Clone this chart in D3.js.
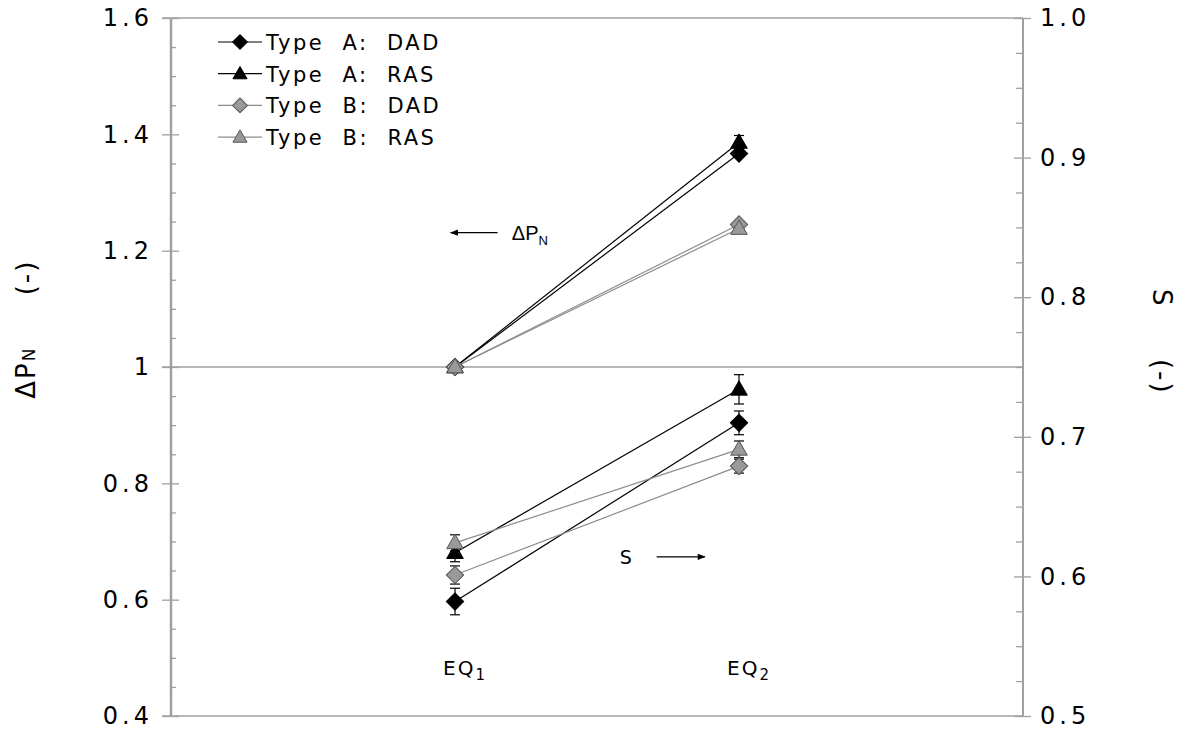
<!DOCTYPE html>
<meta charset="utf-8">
<script src="https://d3js.org/d3.v7.min.js"></script>
<style>
  body { margin: 0; background: #fff; }
  text { font-family: "DejaVu Sans", sans-serif; fill: #000; }
</style>
<div id="my_dataviz"></div>
<script>

// categories on the x axis
var categories = ["EQ1", "EQ2"];
var catSub = ["1", "2"];

// series
var seriesNames = ["Type A: DAD", "Type A: RAS", "Type B: DAD", "Type B: RAS"];
var seriesShape = ["diamond", "triangle", "diamond", "triangle"];

// ΔP_N (left axis)
var dpnADAD = [1.0, 1.367];
var dpnARAS = [1.0, 1.386];
var dpnBDAD = [1.0, 1.245];
var dpnBRAS = [1.0, 1.238];
var dpnErrARAS = [0, 0.012];

// S (right axis)
var sADAD = [0.582, 0.710];
var sARAS = [0.617, 0.734];
var sBDAD = [0.601, 0.679];
var sBRAS = [0.624, 0.691];
var sErrADAD = [0.0095, 0.0085];
var sErrARAS = [0.0065, 0.0105];
var sErrBDAD = [0.0065, 0.005];
var sErrBRAS = [0.0058, 0.006];

// ticks
var leftTicks = [0.4, 0.6, 0.8, 1.0, 1.2, 1.4, 1.6];
var leftTickLabels = ["0.4", "0.6", "0.8", "1", "1.2", "1.4", "1.6"];
var rightTicks = [0.5, 0.6, 0.7, 0.8, 0.9, 1.0];
var rightTickLabels = ["0.5", "0.6", "0.7", "0.8", "0.9", "1.0"];

var margin = {top: 18, right: 161, bottom: 17, left: 171},
    width = 1184 - margin.left - margin.right,
    height = 733 - margin.top - margin.bottom;

var svg = d3.select("#my_dataviz")
  .append("svg")
    .attr("width", 1184)
    .attr("height", 733)
  .append("g")
    .attr("transform", "translate(" + margin.left + "," + margin.top + ")");

var x = d3.scaleLinear().domain([0, 3]).range([0, width]);
var yL = d3.scaleLinear().domain([0.4, 1.6]).range([height, 0]);
var yR = d3.scaleLinear().domain([0.5, 1.0]).range([height, 0]);

var axisColor = "#a0a0a0";

// top / bottom frame lines and the 1.0 reference line
[1.6, 0.4, 1.0].forEach(function(v) {
  svg.append("line")
    .attr("x1", -9).attr("x2", width)
    .attr("y1", yL(v)).attr("y2", yL(v))
    .attr("stroke", axisColor).attr("stroke-width", 1.5);
});

function styleAxis(g) {
  g.select(".domain").remove();
  g.selectAll(".tick line").attr("stroke", axisColor).attr("stroke-width", 1.3);
  g.selectAll(".tick text")
    .style("font-family", "'DejaVu Sans', sans-serif")
    .style("font-size", "24px")
    .style("letter-spacing", "4px")
    .attr("fill", "#000");
}

// left axis
var leftMinor = d3.range(0.45, 1.6, 0.05).filter(function(v) { return Math.abs(Math.round(v * 5) - v * 5) > 0.01; });
svg.append("g")
  .call(d3.axisLeft(yL).tickValues(leftTicks).tickSize(9).tickPadding(9)
    .tickFormat(function(d, i) { return leftTickLabels[i]; }))
  .call(styleAxis);
svg.append("g")
  .call(d3.axisRight(yL).tickValues(leftTicks).tickSize(8).tickFormat(""))
  .call(styleAxis);
svg.append("g")
  .call(d3.axisRight(yL).tickValues(leftMinor).tickSize(5).tickFormat(""))
  .call(styleAxis);
svg.append("line")
  .attr("x1", 0).attr("x2", 0).attr("y1", 0).attr("y2", height)
  .attr("stroke", axisColor).attr("stroke-width", 2.5);

// right axis
var rightMinor = d3.range(0.525, 1.0, 0.025).filter(function(v) { return Math.abs(Math.round(v * 10) - v * 10) > 0.01; });
var gR = svg.append("g").attr("transform", "translate(" + width + ",0)");
gR.append("g")
  .call(d3.axisRight(yR).tickValues(rightTicks).tickSize(8).tickPadding(9)
    .tickFormat(function(d, i) { return rightTickLabels[i]; }))
  .call(styleAxis);
gR.append("g")
  .call(d3.axisLeft(yR).tickValues(rightTicks).tickSize(9).tickFormat(""))
  .call(styleAxis);
gR.append("g")
  .call(d3.axisLeft(yR).tickValues(rightMinor).tickSize(7).tickFormat(""))
  .call(styleAxis);
gR.append("line")
  .attr("x1", 0).attr("x2", 0).attr("y1", 0).attr("y2", height)
  .attr("stroke", axisColor).attr("stroke-width", 2);

// category labels (inside the plot, near the bottom)
categories.forEach(function(c, i) {
  var t = svg.append("text")
    .attr("x", x(i + 1) - 12)
    .attr("y", yL(0.47))
    .style("font-size", "20px")
    .style("letter-spacing", "2px");
  t.append("tspan").text("EQ");
  t.append("tspan").attr("dy", 5).style("font-size", "15px").text(catSub[i]);
});

// series setup
var dpn = [dpnADAD, dpnARAS, dpnBDAD, dpnBRAS];
var dpnErr = [[0, 0], dpnErrARAS, [0, 0], [0, 0]];
var sVals = [sADAD, sARAS, sBDAD, sBRAS];
var sErr = [sErrADAD, sErrARAS, sErrBDAD, sErrBRAS];
var lineColor = ["#000", "#000", "#8c8c8c", "#8c8c8c"];
var fillColor = ["#000", "#000", "#999", "#999"];
var strokeColor = ["#000", "#000", "#555", "#555"];

function markerPath(shape, scale) {
  if (shape === "diamond") return d3.symbol().type(d3.symbolSquare).size(150 * scale * scale)();
  return d3.symbol().type(d3.symbolTriangle).size(120 * scale * scale)();
}
function markerTransform(shape, px, py) {
  return "translate(" + px + "," + py + ")" + (shape === "diamond" ? " rotate(45)" : " translate(0,1)");
}

var line = d3.line().x(function(d) { return x(d.i + 1); }).y(function(d) { return d.y; });

// lines first
[[dpn, yL], [sVals, yR]].forEach(function(grp) {
  grp[0].forEach(function(vals, s) {
    svg.append("path")
      .datum(vals.map(function(v, i) { return {i: i, y: grp[1](v)}; }))
      .attr("d", line)
      .attr("fill", "none")
      .attr("stroke", lineColor[s])
      .attr("stroke-width", 1.2);
  });
});

// error bars
[[dpn, dpnErr, yL], [sVals, sErr, yR]].forEach(function(grp) {
  grp[0].forEach(function(vals, s) {
    vals.forEach(function(v, i) {
      var e = grp[1][s][i];
      if (!e) return;
      var cx = x(i + 1), y0 = grp[2](v - e), y1 = grp[2](v + e);
      svg.append("line").attr("x1", cx).attr("x2", cx).attr("y1", y0).attr("y2", y1)
        .attr("stroke", "#000").attr("stroke-width", 1.2);
      [y0, y1].forEach(function(yy) {
        svg.append("line").attr("x1", cx - 5).attr("x2", cx + 5).attr("y1", yy).attr("y2", yy)
          .attr("stroke", "#000").attr("stroke-width", 1.2);
      });
    });
  });
});

// markers
[[dpn, yL], [sVals, yR]].forEach(function(grp) {
  grp[0].forEach(function(vals, s) {
    vals.forEach(function(v, i) {
      svg.append("path")
        .attr("d", markerPath(seriesShape[s], 1))
        .attr("transform", markerTransform(seriesShape[s], x(i + 1), grp[1](v)))
        .attr("fill", fillColor[s])
        .attr("stroke", strokeColor[s])
        .attr("stroke-width", 1);
    });
  });
});

// annotations: arrows
var defs = svg.append("defs");
defs.append("marker")
  .attr("id", "arrowhead")
  .attr("viewBox", "0 0 10 10")
  .attr("refX", 9).attr("refY", 5)
  .attr("markerWidth", 10).attr("markerHeight", 8)
  .attr("markerUnits", "userSpaceOnUse")
  .attr("orient", "auto")
  .append("path").attr("d", "M0,1 L10,5 L0,9 Z").attr("fill", "#000");

var aY = yL(1.231);
svg.append("line")
  .attr("x1", x(1.15)).attr("x2", x(0.985)).attr("y1", aY).attr("y2", aY)
  .attr("stroke", "#000").attr("stroke-width", 1.3).attr("marker-end", "url(#arrowhead)");
var tP = svg.append("text")
  .attr("x", x(1.2)).attr("y", aY + 7)
  .style("font-family", "'Liberation Sans', Arial, sans-serif")
  .style("font-size", "20px");
tP.append("tspan").text("\u0394P");
tP.append("tspan").attr("dy", 5).style("font-size", "13px").text("N");

var sY = yR(0.614);
svg.append("text")
  .attr("x", x(1.58)).attr("y", sY + 7)
  .style("font-size", "19px")
  .text("S");
svg.append("line")
  .attr("x1", x(1.71)).attr("x2", x(1.88)).attr("y1", sY).attr("y2", sY)
  .attr("stroke", "#000").attr("stroke-width", 1.3).attr("marker-end", "url(#arrowhead)");

// axis titles
var lt = svg.append("text")
  .attr("transform", "translate(" + (-136) + "," + (yL(1.065)) + ") rotate(-90)")
  .attr("text-anchor", "middle")
  .style("font-size", "26px")
  .style("letter-spacing", "2px")
  .attr("xml:space", "preserve");
lt.append("tspan").text("\u0394P");
lt.append("tspan").style("font-size", "17px").text("N");
lt.append("tspan").text("     (-)");

var rt = svg.append("text")
  .attr("transform", "translate(" + (width + 130) + "," + (yR(0.768)) + ") rotate(90)")
  .attr("text-anchor", "middle")
  .style("font-size", "26px")
  .style("letter-spacing", "2px")
  .attr("xml:space", "preserve")
  .text("S     (-)");

// legend
var legX = 218 - margin.left, legY0 = 42 - margin.top, legDy = 31.7;
seriesNames.forEach(function(name, s) {
  var yy = legY0 + s * legDy;
  svg.append("line")
    .attr("x1", legX).attr("x2", legX + 44).attr("y1", yy).attr("y2", yy)
    .attr("stroke", lineColor[s]).attr("stroke-width", 1.2);
  svg.append("path")
    .attr("d", markerPath(seriesShape[s], 0.85))
    .attr("transform", markerTransform(seriesShape[s], legX + 22, yy))
    .attr("fill", fillColor[s])
    .attr("stroke", strokeColor[s])
    .attr("stroke-width", 1);
  svg.append("text")
    .attr("x", legX + 48).attr("y", yy + 8)
    .style("font-size", "21px")
    .style("letter-spacing", "2.5px")
    .attr("xml:space", "preserve")
    .text(name.replace(": ", ":  ").replace(" A", "  A").replace(" B", "  B"));
});

</script>
